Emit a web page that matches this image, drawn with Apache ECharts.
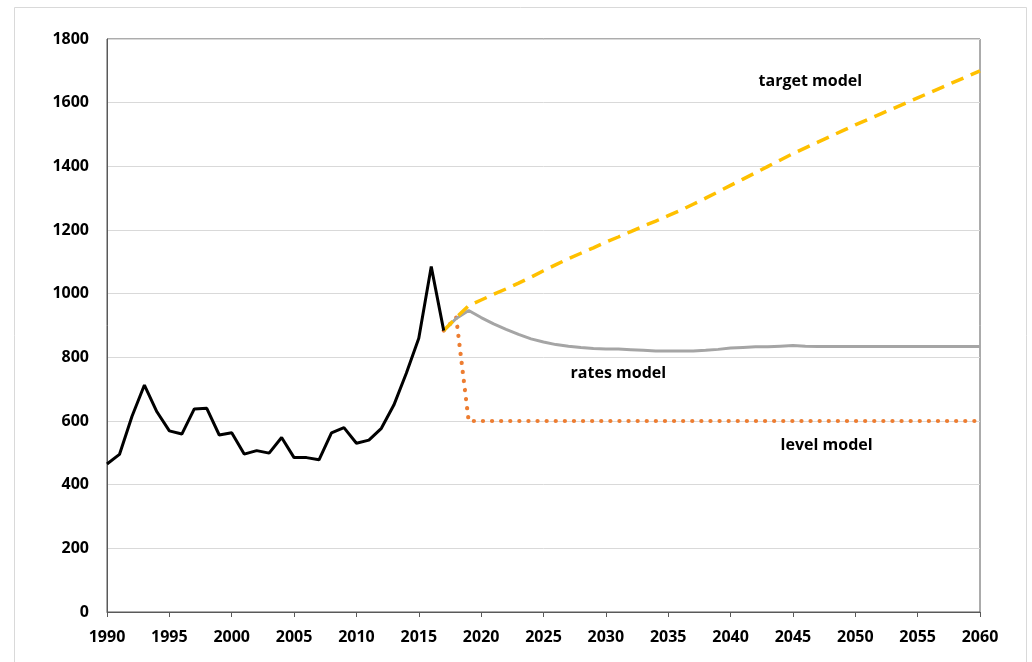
<!DOCTYPE html>
<html>
<head>
<meta charset="utf-8">
<title>Projection models</title>
<script src="https://cdn.jsdelivr.net/npm/echarts@6/dist/echarts.min.js"></script>
<style>
  html, body { margin: 0; padding: 0; background: #ffffff; }
  #chart { width: 1032px; height: 662px; }
</style>
</head>
<body>
<div id="chart"></div>
<script>
// Historical observations, 1990–2017
const histStart = 1990;
const history = [465, 495, 614, 713, 629, 569, 559, 638, 640, 556,
                 563, 496, 507, 499, 548, 485, 485, 478, 563, 579,
                 530, 540, 577, 650, 750, 860, 1085, 884];

// Projections, 2017–2060
const projStart = 2017;
const ratesModel = [884, 922, 947, 925, 905, 888, 872, 858, 848, 840,
                    835, 831, 828, 826, 826, 824, 822, 820, 820, 820,
                    820, 822, 825, 829, 831, 833, 833, 835, 837, 835,
                    834, 834, 834, 834, 834, 834, 834, 834, 834, 834,
                    834, 834, 834, 834];
const targetModel = [884, 925, 962, 980, 998, 1015, 1033, 1052, 1072, 1091,
                     1110, 1127, 1144, 1162, 1178, 1195, 1212, 1228, 1245, 1262,
                     1281, 1300, 1320, 1340, 1360, 1380, 1400, 1420, 1440, 1458,
                     1476, 1494, 1512, 1530, 1547, 1564, 1581, 1598, 1615, 1632,
                     1649, 1666, 1683, 1700];
const levelModel = [884, 925, 600, 600, 600, 600, 600, 600, 600, 600,
                    600, 600, 600, 600, 600, 600, 600, 600, 600, 600,
                    600, 600, 600, 600, 600, 600, 600, 600, 600, 600,
                    600, 600, 600, 600, 600, 600, 600, 600, 600, 600,
                    600, 600, 600, 600];

// Series name labels and the [year, value] spot they sit at
const seriesLabels = [
  { text: 'target model', at: [2046.4, 1666] },
  { text: 'rates model',  at: [2031.0, 748] },
  { text: 'level model',  at: [2047.7, 522] }
];

const pairs = (start, arr) => arr.map((v, i) => [start + i, v]);

const FONT = '"Open Sans", "Liberation Sans", sans-serif';

const chart = echarts.init(document.getElementById('chart'), null, { renderer: 'canvas' });

chart.setOption({
  backgroundColor: '#ffffff',
  animation: false,
  graphic: [{
    type: 'rect',
    shape: { x: 14.5, y: 7.5, width: 1012, height: 670 },
    style: { fill: 'none', stroke: '#d9d9d9', lineWidth: 1 },
    silent: true,
    z: -10
  }],
  grid: {
    left: 107, right: 52, top: 39, bottom: 50,
    show: true, borderColor: '#595959', borderWidth: 1,
    backgroundColor: 'transparent'
  },
  xAxis: {
    type: 'value',
    min: 1990, max: 2060, interval: 5,
    axisLine: { show: true, lineStyle: { color: '#595959', width: 1 } },
    axisTick: { show: true, inside: false, length: 5, lineStyle: { color: '#595959' } },
    splitLine: { show: false },
    axisLabel: {
      margin: 17,
      color: '#000000',
      fontFamily: FONT, fontWeight: 'bold', fontSize: 16,
      formatter: v => String(v)
    }
  },
  yAxis: {
    type: 'value',
    min: 0, max: 1800, interval: 200,
    axisLine: { show: true, lineStyle: { color: '#595959', width: 1 } },
    axisTick: { show: false },
    splitLine: { show: true, lineStyle: { color: '#d9d9d9', width: 1 } },
    axisLabel: {
      margin: 18,
      color: '#000000',
      fontFamily: FONT, fontWeight: 'bold', fontSize: 16,
      formatter: v => String(v)
    }
  },
  series: [
    {
      name: 'level model',
      type: 'line',
      data: pairs(projStart, levelModel),
      showSymbol: false,
      lineStyle: { color: '#ed7d31', width: 4.2, type: [0.1, 9], cap: 'round' },
      z: 2
    },
    {
      name: 'rates model',
      type: 'line',
      data: pairs(projStart, ratesModel),
      showSymbol: false,
      lineStyle: { color: '#a5a5a5', width: 3 },
      z: 3
    },
    {
      name: 'target model',
      type: 'line',
      data: pairs(projStart, targetModel),
      showSymbol: false,
      lineStyle: { color: '#ffc000', width: 3.5, type: [13, 8] },
      z: 4,
      markPoint: {
        symbol: 'circle', symbolSize: 0,
        silent: true,
        label: {
          show: true, position: 'inside',
          color: '#000000', fontFamily: FONT, fontWeight: 'bold', fontSize: 16,
          formatter: p => p.name
        },
        data: seriesLabels.map(l => ({ name: l.text, coord: l.at }))
      }
    },
    {
      name: 'history',
      type: 'line',
      data: pairs(histStart, history),
      showSymbol: false,
      lineStyle: { color: '#000000', width: 3 },
      z: 5
    }
  ]
});
</script>
</body>
</html>
